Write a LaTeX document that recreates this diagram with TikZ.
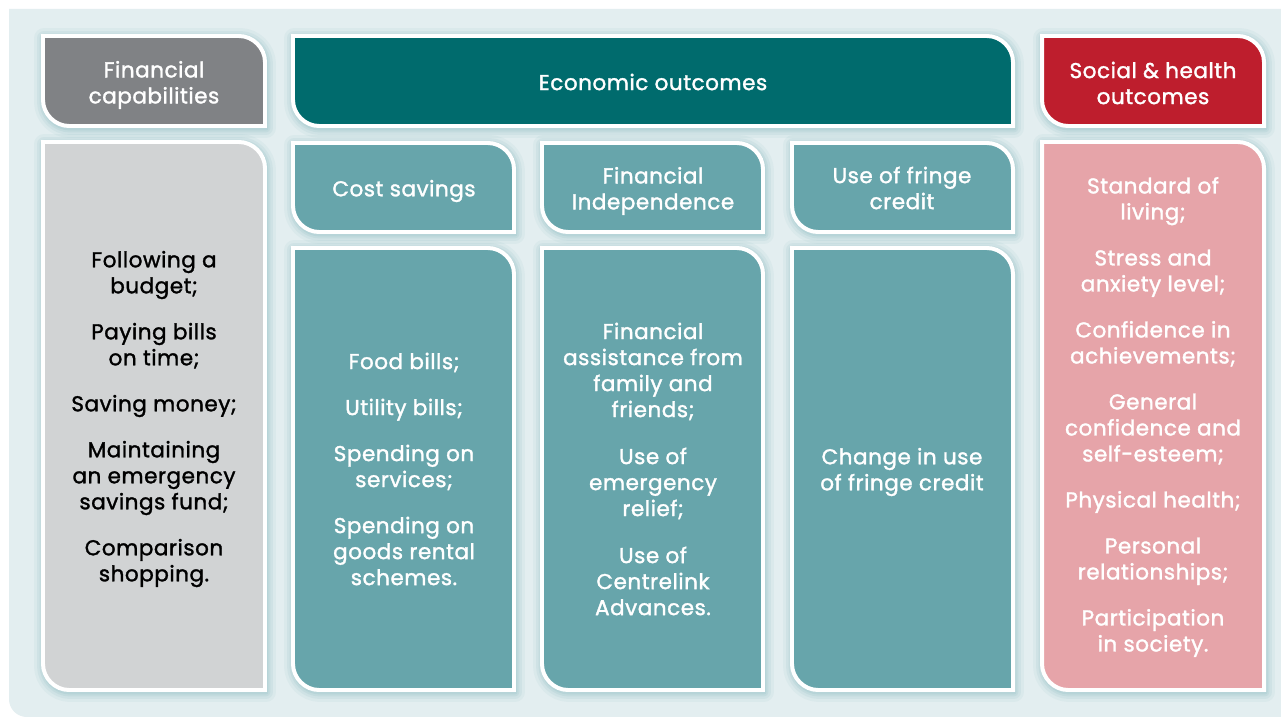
\documentclass[tikz,border=0pt]{standalone}
\usepackage{fontspec}
\setmainfont{Poppins}[FakeBold=1.5, LetterSpace=2.5]
\definecolor{panel}{HTML}{E3EEF0}
\definecolor{shadowc}{HTML}{8FBEC3}
\definecolor{hgray}{HTML}{808285}
\definecolor{lgray}{HTML}{D1D3D4}
\definecolor{dteal}{HTML}{006B6D}
\definecolor{mteal}{HTML}{67A5AB}
\definecolor{hred}{HTML}{BE1E2D}
\definecolor{lpink}{HTML}{E6A4A9}
\newcommand\bx[5]{%
  \foreach \w/\o in {20/0.10,14/0.14,9/0.18,5/0.22}{%
    \draw[draw=shadowc, line width=\w, draw opacity=\o, line join=round]
      (#1+3,#2+4) -- (#3-27,#2+4) .. controls +(14,0) and +(0,-14) .. (#3-1,#2+30) -- (#3-1,#4) -- (#1+29,#4) .. controls +(-14,0) and +(0,14) .. (#1+3,#4-26) -- cycle;}
  \filldraw[fill=#5, draw=white, line width=4]
    (#1+2,#2+2) -- (#3-28,#2+2) .. controls +(14,0) and +(0,-14) .. (#3-2,#2+28) -- (#3-2,#4-2) -- (#1+28,#4-2) .. controls +(-14,0) and +(0,14) .. (#1+2,#4-28) -- cycle;}
\tikzset{
  txt/.style={align=center, inner sep=0pt, font=\fontsize{21.5bp}{26bp}\selectfont},
  wtxt/.style={txt, text=white},
  btxt/.style={txt, text=black},
}
\begin{document}
\begin{tikzpicture}[x=1bp,y=-1bp]
\useasboundingbox (0,0) rectangle (1281,717);
\fill[white] (0,0) rectangle (1281,717);
\fill[panel] (9,9) -- (1281,9) -- (1281,717) -- (27,717) .. controls +(-10,0) and +(0,10) .. (9,699) -- cycle;
% boxes
\bx{41}{34}{267}{128}{hgray}
\bx{41}{140}{267}{692}{lgray}
\bx{291}{34}{1015}{128}{dteal}
\bx{291}{141}{516}{234}{mteal}
\bx{540}{141}{765}{234}{mteal}
\bx{790}{141}{1015}{234}{mteal}
\bx{291}{246}{516}{692}{mteal}
\bx{540}{246}{765}{692}{mteal}
\bx{790}{246}{1015}{692}{mteal}
\bx{1040}{34}{1266}{128}{hred}
\bx{1040}{140}{1266}{692}{lpink}
% texts
\node[wtxt] (fch) at (154,85) {Financial\\capabilities};
\node[wtxt] (ecoh) at (653,82) {Economic outcomes};
\node[wtxt] (soch) at (1153,83) {Social \& health\\outcomes};
\node[wtxt] (cosh) at (404,191) {Cost savings};
\node[wtxt] (fih) at (653,191) {Financial\\Independence};
\node[wtxt] (frh) at (902,188) {Use of fringe\\credit};
\node[btxt] (fcb) at (154,419) {Following a\\budget;\\[20bp]Paying bills\\on time;\\[20bp]Saving money;\\[20bp]Maintaining\\an emergency\\savings fund;\\[20bp]Comparison\\shopping.};
\node[wtxt] (cosb) at (404,469) {Food bills;\\[20bp]Utility bills;\\[20bp]Spending on\\services;\\[20bp]Spending on\\goods rental\\schemes.};
\node[wtxt] (fib) at (653,469) {Financial\\assistance from\\family and\\friends;\\[21bp]Use of\\emergency\\relief;\\[21bp]Use of\\Centrelink\\Advances.};
\node[wtxt] (frb) at (902,472) {Change in use\\of fringe credit};
\node[wtxt] (socb) at (1153,417) {Standard of\\living;\\[20bp]Stress and\\anxiety level;\\[20bp]Confidence in\\achievements;\\[20bp]General\\confidence and\\self-esteem;\\[20bp]Physical health;\\[20bp]Personal\\relationships;\\[20bp]Participation\\in society.};
\end{tikzpicture}
\end{document}
